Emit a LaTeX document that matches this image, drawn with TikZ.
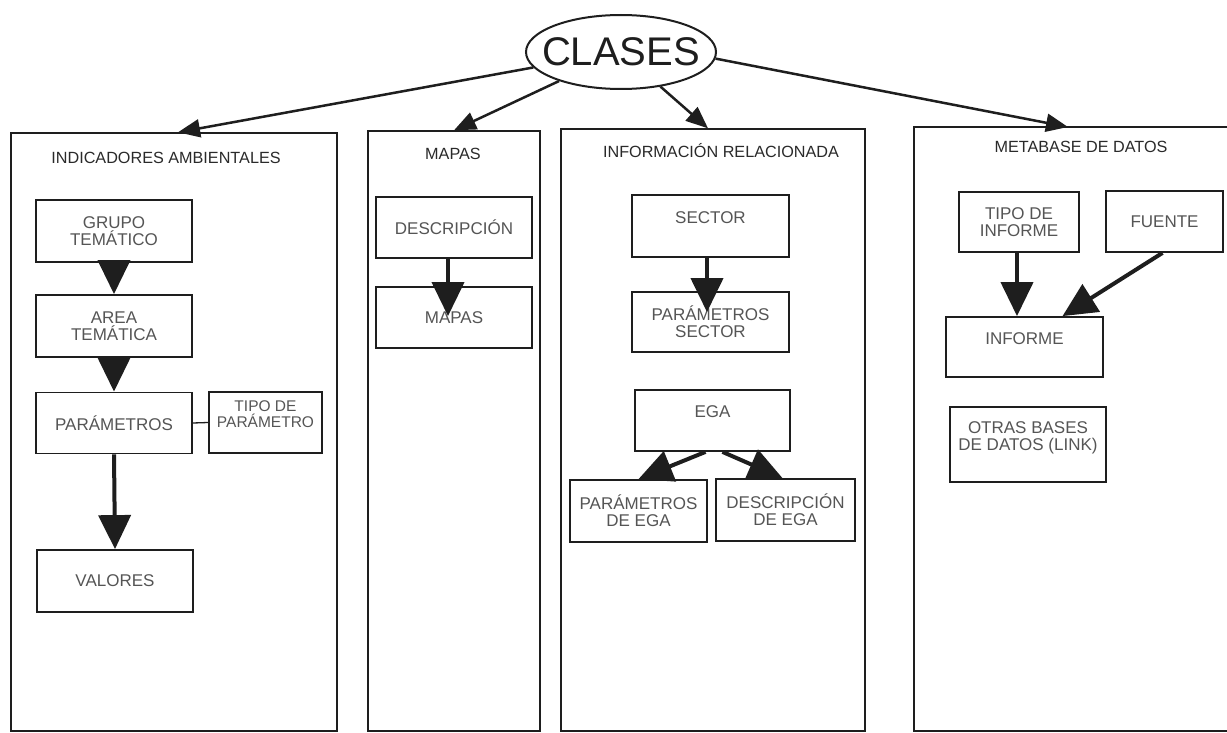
\documentclass[tikz,border=0pt]{standalone}
\usepackage{fontspec}
\setmainfont{Liberation Sans}
\usetikzlibrary{arrows.meta,shapes.geometric}
\definecolor{ink}{HTML}{1E1E1E}
\definecolor{txt}{HTML}{555555}
\definecolor{ttl}{HTML}{2A2A2A}
\begin{document}
\begin{tikzpicture}[x=1pt,y=-1pt,
  colbox/.style={draw=ink, line width=1.4pt, inner sep=0pt},
  inbox/.style={draw=ink, line width=1.8pt, inner sep=0pt, align=center,
    text=txt, font=\fontsize{17}{17}\selectfont},
  title/.style={text=ttl, font=\fontsize{16.2}{18}\selectfont, inner sep=0pt},
  bigarrow/.style={draw=ink, line width=4pt, -{Triangle[length=34pt,width=32pt]}},
  toparrow/.style={draw=ink, line width=2.5pt, -{Triangle[length=22pt,width=18pt]}},
  link/.style={draw=ink, line width=1.3pt}
]
\clip (0,0) rectangle (1227,733);
\fill[white] (0,0) rectangle (1227,733);

% columns
\node[colbox, minimum width=326pt, minimum height=598pt] (col1) at (174,432) {};
\node[colbox, minimum width=172pt, minimum height=600pt] (col2) at (454,431) {};
\node[colbox, minimum width=304pt, minimum height=602pt] (col3) at (713,430) {};
\node[colbox, minimum width=331pt, minimum height=604pt] (col4) at (1079.5,429) {};
\coordinate (col4tip) at (1068,127);

% titles
\node[title] (t1) at (166,158) {INDICADORES AMBIENTALES};
\node[title] (t2) at (453,154) {MAPAS};
\node[title] (t3) at (721,151) {INFORMACIÓN RELACIONADA};
\node[title] (t4) at (1081,147) {METABASE DE DATOS};

% CLASES
\node[ellipse, draw=ink, line width=2pt, minimum width=190pt, minimum height=74pt,
  inner sep=0pt, font=\fontsize{40}{40}\selectfont, text=ink] (clases) at (621,52) {\makebox[0pt]{CLASES}};

% column 1
\node[inbox, minimum width=156pt, minimum height=62pt] (grupo) at (114,231) {GRUPO\\TEMÁTICO};
\node[inbox, minimum width=156pt, minimum height=62pt] (area) at (114,326) {AREA\\TEMÁTICA};
\node[inbox, minimum width=156pt, minimum height=61pt] (param) at (114,423) {PARÁMETROS};
\node[inbox, minimum width=113pt, minimum height=61pt, font=\fontsize{15.5}{16}\selectfont] (tipop) at (265.5,422.5) {TIPO DE\\PARÁMETRO\\\mbox{}};
\node[inbox, minimum width=156pt, minimum height=62pt] (valores) at (115,581) {VALORES};

% column 2
\node[inbox, minimum width=156pt, minimum height=61pt] (desc) at (454,227.5) {DESCRIPCIÓN};
\node[inbox, minimum width=156pt, minimum height=61pt] (mapas) at (454,317.5) {MAPAS};

% column 3
\node[inbox, minimum width=157pt, minimum height=62pt] (sector) at (710.5,226) {SECTOR\\\mbox{}};
\node[inbox, minimum width=157pt, minimum height=60pt] (psector) at (710.5,322) {PARÁMETROS\\SECTOR};
\node[inbox, minimum width=155pt, minimum height=61pt] (ega) at (712.5,420.5) {EGA\\\mbox{}};
\node[inbox, minimum width=137pt, minimum height=62pt] (pega) at (638.5,511) {PARÁMETROS\\DE EGA};
\node[inbox, minimum width=139pt, minimum height=62pt] (dega) at (785.5,510) {DESCRIPCIÓN\\DE EGA};

% column 4
\node[inbox, minimum width=120pt, minimum height=60pt] (tipoi) at (1019,222) {TIPO DE\\INFORME};
\node[inbox, minimum width=117pt, minimum height=61pt] (fuente) at (1164.5,221.5) {FUENTE};
\node[inbox, minimum width=157pt, minimum height=60pt] (informe) at (1024.5,347) {INFORME\\\mbox{}};
\node[inbox, minimum width=156pt, minimum height=75pt] (otras) at (1028,444.5) {OTRAS BASES\\DE DATOS (LINK)\\\mbox{}};

% arrows from CLASES
\draw[toparrow] (clases.190) -- ([xshift=4pt]col1.north);
\draw[toparrow] (clases) -- (col2.north);
\draw[toparrow] (clases) -- ([xshift=-5pt]col3.north);
\draw[toparrow] (clases.-4) -- (col4tip);

% column 1 connectors
\draw[bigarrow] (grupo.south) -- (area.north);
\draw[bigarrow] (area.south) -- (param.north);
\draw[bigarrow] (param.south) -- (valores.north);
\draw[link] (param.east) -- (tipop.west);

% column 2 connectors
\draw[bigarrow] ([xshift=-6pt]desc.south) -- ([xshift=-6pt,yshift=-30pt]mapas.north);

% column 3 connectors
\draw[bigarrow] ([xshift=-3.5pt]sector.south) -- ([xshift=-3.5pt,yshift=-21pt]psector.north);
\draw[bigarrow] ([xshift=-7pt]ega.south) -- (pega.north);
\draw[bigarrow] ([xshift=10pt]ega.south) -- ([xshift=-3pt]dega.north);

% column 4 connectors
\draw[bigarrow] ([xshift=-2pt]tipoi.south) -- ([xshift=-2pt]tipoi.south |- informe.north);
\draw[bigarrow] ([xshift=-2pt]fuente.south) -- ([xshift=38pt]informe.north);
\end{tikzpicture}
\end{document}
